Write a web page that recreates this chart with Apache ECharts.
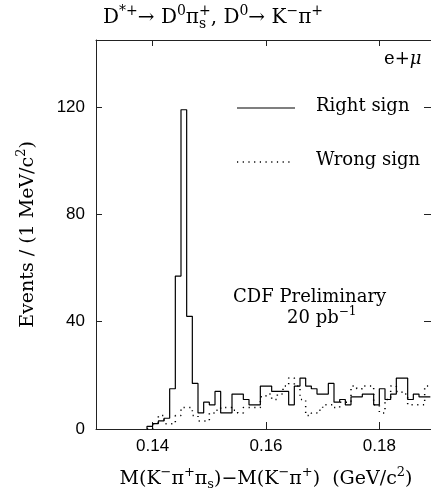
<!DOCTYPE html>
<html>
<head>
<meta charset="utf-8">
<script src="https://cdn.jsdelivr.net/npm/echarts@6/dist/echarts.min.js"></script>
<style>
  html, body { margin: 0; padding: 0; background: #fff; }
  #chart { width: 431px; height: 489px; }
</style>
</head>
<body>
<div id="chart"></div>
<script>
// bin edges, GeV/c^2 (1 MeV bins)
const binEdges = [0.139, 0.140, 0.141, 0.142, 0.143, 0.144, 0.145, 0.146, 0.147, 0.148,
  0.149, 0.150, 0.151, 0.152, 0.153, 0.154, 0.155, 0.156, 0.157, 0.158,
  0.159, 0.160, 0.161, 0.162, 0.163, 0.164, 0.165, 0.166, 0.167, 0.168,
  0.169, 0.170, 0.171, 0.172, 0.173, 0.174, 0.175, 0.176, 0.177, 0.178,
  0.179, 0.180, 0.181, 0.182, 0.183, 0.184, 0.185, 0.186, 0.187, 0.188, 0.189];
const rightSign = [1, 2, 3, 4, 15, 57, 119, 42, 17, 6,
  10, 9, 14, 6, 6, 13, 13, 11, 9, 9,
  16, 16, 14, 14, 14, 9, 16, 19, 16, 15,
  13, 13, 17, 10, 11, 9, 12, 12, 13, 13,
  9, 15, 11, 13, 19, 19, 11, 13, 12, 12];
const wrongSign = [0, 2, 5, 2, 2, 5, 8, 8, 5, 3,
  3, 6, 7, 8, 8, 7, 6, 8, 8, 8,
  12, 13, 11, 13, 16, 19, 16, 11, 5, 6,
  7, 9, 9, 8, 10, 10, 16, 15, 16, 16,
  9, 6, 11, 16, 14, 13, 9, 9, 9, 16];
const xTicks = [0.14, 0.16, 0.18];
const yTicks = [0, 40, 80, 120];

const serif = 'DejaVu Serif';
const sans = 'Liberation Sans';
const axisColor = '#222';
const dotted = [1.2, 4.5];

// histogram outline: vertical at each left edge, then flat to the right edge
function stepData(counts) {
  const out = [[binEdges[0], 0]];
  for (let i = 0; i < counts.length; i++) {
    out.push([binEdges[i + 1], counts[i]]);
  }
  return out;
}

function rich(size) {
  const s = Math.round(size * 0.68);
  return {
    sup: { fontFamily: serif, fontSize: s, color: '#000', padding: [0, 0, Math.round(size * 0.7), 0] },
    sub: { fontFamily: serif, fontSize: s, color: '#000', padding: [Math.round(size * 0.6), 0, 0, 0] },
    subz: { fontFamily: serif, fontSize: s, color: '#000', padding: [Math.round(size * 0.6), 0, 0, 0], width: 0 },
    it: { fontFamily: serif, fontSize: size, fontStyle: 'italic', color: '#000' }
  };
}

const chartDom = document.getElementById('chart');
const myChart = echarts.init(chartDom, null, { renderer: 'canvas' });

const option = {
  animation: false,
  backgroundColor: '#fff',
  grid: { left: 96, top: 40, right: -5, bottom: 60, outerBoundsMode: 'none', containLabel: false },
  xAxis: [
    {
      type: 'value', min: 0.13, max: 0.19, position: 'bottom',
      axisLine: { show: true, onZero: false, lineStyle: { color: axisColor, width: 1 } },
      axisTick: { show: true, inside: true, length: 7, customValues: xTicks, lineStyle: { color: axisColor } },
      axisLabel: {
        customValues: xTicks, formatter: v => v.toFixed(2),
        fontFamily: sans, fontSize: 17, color: '#000', margin: 9
      },
      splitLine: { show: false },
      name: 'M(K{sup|−}π{sup|+}π{sub|s})−M(K{sup|−}π{sup|+})  (GeV/c{sup|2})',
      nameLocation: 'middle',
      nameGap: 37,
      nameTextStyle: { fontFamily: serif, fontSize: 19, color: '#000', rich: rich(19) }
    },
    {
      type: 'value', min: 0.13, max: 0.19, position: 'top',
      axisLine: { show: true, onZero: false, lineStyle: { color: axisColor, width: 1 } },
      axisTick: { show: true, inside: true, length: 6, customValues: xTicks, lineStyle: { color: axisColor } },
      axisLabel: { show: false },
      splitLine: { show: false }
    }
  ],
  yAxis: [
    {
      type: 'value', min: 0, max: 145, position: 'left',
      axisLine: { show: true, onZero: false, lineStyle: { color: axisColor, width: 1 } },
      axisTick: { show: true, inside: true, length: 6, customValues: yTicks, lineStyle: { color: axisColor } },
      axisLabel: { customValues: yTicks, fontFamily: sans, fontSize: 17, color: '#000', margin: 11 },
      splitLine: { show: false },
      name: 'Events / (1 MeV/c{sup|2})',
      nameLocation: 'middle',
      nameRotate: 90,
      nameGap: 55,
      nameTextStyle: { fontFamily: serif, fontSize: 19, color: '#000', rich: rich(19) }
    },
    {
      type: 'value', min: 0, max: 145, position: 'right',
      axisLine: { show: true, onZero: false, lineStyle: { color: axisColor, width: 1 } },
      axisTick: { show: true, inside: true, length: 12, customValues: yTicks, lineStyle: { color: axisColor } },
      axisLabel: { show: false },
      splitLine: { show: false }
    }
  ],
  graphic: [
    {
      type: 'text', left: 103, top: 4,
      style: {
        text: 'D{sup|*+}→ D{sup|0}π{subz|s}{sup|+}, D{sup|0}→ K{sup|−}π{sup|+}',
        fontFamily: serif, fontSize: 20, fill: '#000',
        rich: rich(20)
      }
    },
    {
      type: 'text', left: 384, top: 50,
      style: { text: 'e+{it|μ}', fontFamily: serif, fontSize: 18, fill: '#000', rich: rich(18) }
    },
    // legend
    {
      type: 'line', shape: { x1: 237, y1: 108, x2: 295, y2: 108 },
      style: { stroke: '#000', lineWidth: 1.2 }
    },
    {
      type: 'text', left: 316, top: 97,
      style: { text: 'Right sign', fontFamily: serif, fontSize: 18, fill: '#000' }
    },
    {
      type: 'line', shape: { x1: 237, y1: 162, x2: 294, y2: 162 },
      style: { stroke: '#000', lineWidth: 1.5, lineDash: dotted }
    },
    {
      type: 'text', left: 316, top: 151,
      style: { text: 'Wrong sign', fontFamily: serif, fontSize: 18, fill: '#000' }
    },
    {
      type: 'text', left: 233, top: 288,
      style: { text: 'CDF Preliminary', fontFamily: serif, fontSize: 18, fill: '#000' }
    },
    {
      type: 'text', left: 287, top: 306,
      style: {
        text: '20 pb{sup|−1}', fontFamily: serif, fontSize: 18, fill: '#000',
        rich: rich(18)
      }
    }
  ],
  series: [
    {
      name: 'Wrong sign',
      type: 'line',
      step: 'start',
      symbol: 'none',
      data: stepData(wrongSign),
      lineStyle: { color: '#000', width: 1.5, type: dotted },
      z: 2
    },
    {
      name: 'Right sign',
      type: 'line',
      step: 'start',
      symbol: 'none',
      data: stepData(rightSign),
      lineStyle: { color: '#000', width: 1.2 },
      z: 3
    }
  ]
};

option && myChart.setOption(option);
</script>
</body>
</html>
